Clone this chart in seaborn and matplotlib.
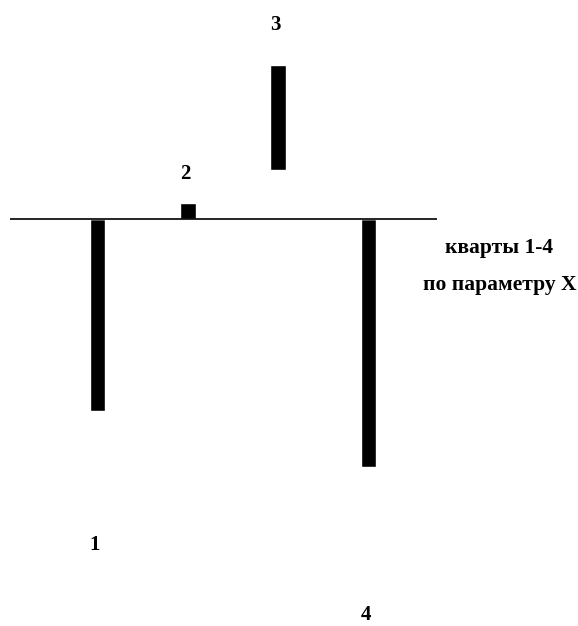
import matplotlib
matplotlib.use("Agg")
import pandas as pd
import seaborn as sns
import matplotlib.pyplot as plt

# quartiles 1-4 on parameter X
quarts = ["1", "2", "3", "4"]
tops = [-19.1, 1.6, 15.4, -24.7]      # bar end (0 = axis line)
bottoms = [0.0, 0.0, 4.9, 0.0]        # bar 3 floats above the axis
label_y = [-32.6, 4.5, 19.4, -39.6]
caption = ["кварты 1-4", "по параметру X"]

sns.set_theme(style="white")
plt.rcParams["font.family"] = ["Liberation Serif", "DejaVu Serif"]
plt.rcParams["text.color"] = "black"

df = pd.DataFrame({"q": quarts, "top": tops, "bottom": bottoms})

fig = plt.figure(figsize=(5.78, 6.26), dpi=100)
ax = fig.add_axes([10 / 578, 0, (437 - 10) / 578, 1])

sns.barplot(data=df, x="q", y="top", color="black", width=0.17,
            saturation=1, ax=ax, zorder=2)
# white-out the gap under the floating bar
sns.barplot(data=df, x="q", y="bottom", color="white", width=0.2,
            saturation=1, ax=ax, zorder=3)

ax.axhline(0, color="black", lw=1.2, zorder=5)

ax.set_xlim(-0.97, 3.76)
ax.set_ylim(-40.65, 21.95)
ax.axis("off")

for i, (q, ly) in enumerate(zip(quarts, label_y)):
    ax.text(i - 0.03, ly, q, ha="center", va="center", color="black",
            fontsize=15, fontweight="bold", zorder=6)

fig.text(499 / 578, 1 - 248 / 626, caption[0], ha="center", va="center",
         fontsize=15.5, fontweight="bold", color="black")
fig.text(500 / 578, 1 - 285 / 626, caption[1], ha="center", va="center",
         fontsize=15.5, fontweight="bold", color="black")

fig.savefig("out.png", dpi=100, facecolor="white")
